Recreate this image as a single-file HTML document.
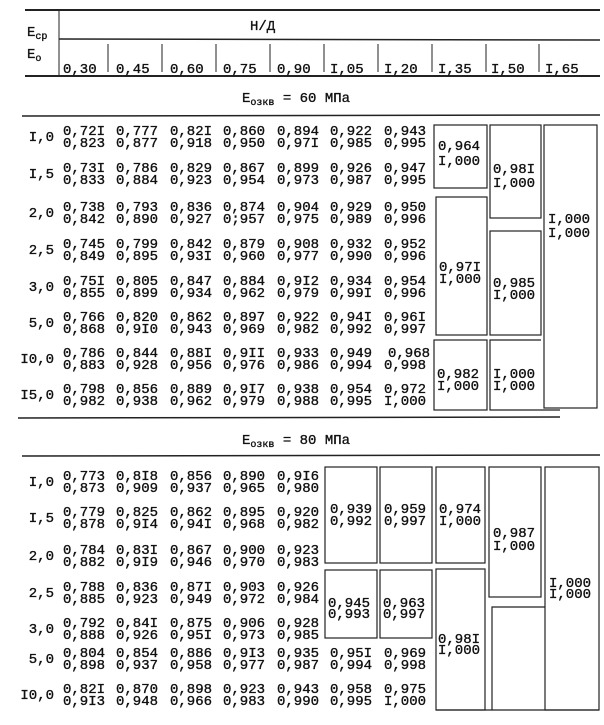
<!DOCTYPE html>
<html><head><meta charset="utf-8"><style>
html,body{margin:0;padding:0;background:#fff;}
svg{display:block;}
text{font-family:"Liberation Mono",monospace;font-size:14px;fill:#111;stroke:#111;stroke-width:0.35;}
.s{font-size:10px;}
</style></head><body>
<svg width="604" height="725" viewBox="0 0 604 725" xmlns="http://www.w3.org/2000/svg">
<g stroke="#222" fill="none">
<line x1="25" y1="10" x2="600" y2="10" stroke-width="2"/>
<line x1="59" y1="10" x2="59" y2="76" stroke-width="1"/>
<line x1="59" y1="39" x2="600" y2="40" stroke-width="1.5"/>
<line x1="25" y1="76" x2="600" y2="76" stroke-width="2"/>
<g stroke-width="1">
<line x1="108" y1="44" x2="108" y2="72"/><line x1="162" y1="44" x2="162" y2="72"/>
<line x1="216" y1="44" x2="216" y2="72"/><line x1="270" y1="44" x2="270" y2="72"/>
<line x1="324" y1="44" x2="324" y2="72"/><line x1="378" y1="44" x2="378" y2="72"/>
<line x1="432" y1="44" x2="432" y2="72"/><line x1="486" y1="44" x2="486" y2="72"/>
<line x1="539" y1="44" x2="539" y2="72"/>
</g>
<line x1="22" y1="116" x2="600" y2="115" stroke-width="1.5"/>
<line x1="18" y1="418" x2="560" y2="417" stroke-width="1.5"/>
<line x1="22" y1="456" x2="600" y2="455" stroke-width="1.5"/>
<g stroke-width="1.2">
<rect x="434" y="125" width="53" height="63"/>
<rect x="490" y="125" width="51" height="93"/>
<rect x="544" y="125" width="53" height="283"/>
<rect x="436" y="197" width="51" height="138"/>
<rect x="490" y="231" width="51" height="104"/>
<rect x="434" y="340" width="53" height="70"/>
<polyline points="541,340 490,340 490,410 560,410"/>
<rect x="325" y="467" width="52" height="96"/>
<rect x="380" y="467" width="52" height="96"/>
<rect x="436" y="467" width="49" height="96"/>
<rect x="489" y="467" width="52" height="130"/>
<rect x="545" y="467" width="54" height="243"/>
<rect x="325" y="570" width="52" height="68"/>
<rect x="380" y="570" width="52" height="68"/>
<rect x="436" y="569" width="49" height="141"/>
<polyline points="545,607 492,607 492,710"/>
<line x1="436" y1="710" x2="599" y2="710"/>
</g>
</g>
<text x="27" y="36">E<tspan class="s" dy="3">ср</tspan></text>
<text x="27" y="58">E<tspan class="s" dy="3">о</tspan></text>
<text x="250" y="30">Н/Д</text>
<g>
<text x="63" y="73">0,30</text><text x="116" y="73">0,45</text><text x="170" y="73">0,60</text>
<text x="223" y="73">0,75</text><text x="277" y="73">0,90</text><text x="330" y="73">I,05</text>
<text x="384" y="73">I,20</text><text x="438" y="73">I,35</text><text x="491" y="73">I,50</text>
<text x="545" y="73">I,65</text>
</g>
<text x="242" y="102">E<tspan class="s" dy="3">озкв</tspan><tspan dy="-3"> = 60 МПа</tspan></text>
<text x="242" y="444">E<tspan class="s" dy="3">озкв</tspan><tspan dy="-3"> = 80 МПа</tspan></text>

<g text-anchor="end">
<text x="54" y="141">I,0</text><text x="54" y="178">I,5</text><text x="54" y="217">2,0</text>
<text x="54" y="254">2,5</text><text x="54" y="291">3,0</text><text x="54" y="327">5,0</text>
<text x="54" y="363">I0,0</text><text x="54" y="399">I5,0</text>
<text x="54" y="486">I,0</text><text x="54" y="522">I,5</text><text x="54" y="560">2,0</text>
<text x="54" y="597">2,5</text><text x="54" y="633">3,0</text><text x="54" y="663">5,0</text>
<text x="54" y="699">I0,0</text>
</g>

<g>
<text y="135"><tspan x="63">0,72I</tspan><tspan x="116">0,777</tspan><tspan x="170">0,82I</tspan><tspan x="223">0,860</tspan><tspan x="277">0,894</tspan><tspan x="330">0,922</tspan><tspan x="384">0,943</tspan></text>
<text y="147"><tspan x="63">0,823</tspan><tspan x="116">0,877</tspan><tspan x="170">0,918</tspan><tspan x="223">0,950</tspan><tspan x="277">0,97I</tspan><tspan x="330">0,985</tspan><tspan x="384">0,995</tspan></text>
<text y="172"><tspan x="63">0,73I</tspan><tspan x="116">0,786</tspan><tspan x="170">0,829</tspan><tspan x="223">0,867</tspan><tspan x="277">0,899</tspan><tspan x="330">0,926</tspan><tspan x="384">0,947</tspan></text>
<text y="184"><tspan x="63">0,833</tspan><tspan x="116">0,884</tspan><tspan x="170">0,923</tspan><tspan x="223">0,954</tspan><tspan x="277">0,973</tspan><tspan x="330">0,987</tspan><tspan x="384">0,995</tspan></text>
<text y="211"><tspan x="63">0,738</tspan><tspan x="116">0,793</tspan><tspan x="170">0,836</tspan><tspan x="223">0,874</tspan><tspan x="277">0,904</tspan><tspan x="330">0,929</tspan><tspan x="384">0,950</tspan></text>
<text y="223"><tspan x="63">0,842</tspan><tspan x="116">0,890</tspan><tspan x="170">0,927</tspan><tspan x="223">0;957</tspan><tspan x="277">0,975</tspan><tspan x="330">0,989</tspan><tspan x="384">0,996</tspan></text>
<text y="248"><tspan x="63">0,745</tspan><tspan x="116">0,799</tspan><tspan x="170">0,842</tspan><tspan x="223">0,879</tspan><tspan x="277">0,908</tspan><tspan x="330">0,932</tspan><tspan x="384">0,952</tspan></text>
<text y="260"><tspan x="63">0,849</tspan><tspan x="116">0,895</tspan><tspan x="170">0,93I</tspan><tspan x="223">0,960</tspan><tspan x="277">0,977</tspan><tspan x="330">0,990</tspan><tspan x="384">0,996</tspan></text>
<text y="285"><tspan x="63">0,75I</tspan><tspan x="116">0,805</tspan><tspan x="170">0,847</tspan><tspan x="223">0,884</tspan><tspan x="277">0,9I2</tspan><tspan x="330">0,934</tspan><tspan x="384">0,954</tspan></text>
<text y="297"><tspan x="63">0,855</tspan><tspan x="116">0,899</tspan><tspan x="170">0,934</tspan><tspan x="223">0,962</tspan><tspan x="277">0,979</tspan><tspan x="330">0,99I</tspan><tspan x="384">0,996</tspan></text>
<text y="321"><tspan x="63">0,766</tspan><tspan x="116">0,820</tspan><tspan x="170">0,862</tspan><tspan x="223">0,897</tspan><tspan x="277">0,922</tspan><tspan x="330">0,94I</tspan><tspan x="384">0,96I</tspan></text>
<text y="333"><tspan x="63">0,868</tspan><tspan x="116">0,9I0</tspan><tspan x="170">0,943</tspan><tspan x="223">0,969</tspan><tspan x="277">0,982</tspan><tspan x="330">0,992</tspan><tspan x="384">0,997</tspan></text>
<text y="357"><tspan x="63">0,786</tspan><tspan x="116">0,844</tspan><tspan x="170">0,88I</tspan><tspan x="223">0,9II</tspan><tspan x="277">0,933</tspan><tspan x="330">0,949</tspan><tspan x="388">0,968</tspan></text>
<text y="369"><tspan x="63">0,883</tspan><tspan x="116">0,928</tspan><tspan x="170">0,956</tspan><tspan x="223">0,976</tspan><tspan x="277">0,986</tspan><tspan x="330">0,994</tspan><tspan x="384">0,998</tspan></text>
<text y="393"><tspan x="63">0,798</tspan><tspan x="116">0,856</tspan><tspan x="170">0,889</tspan><tspan x="223">0,9I7</tspan><tspan x="277">0,938</tspan><tspan x="330">0,954</tspan><tspan x="384">0,972</tspan></text>
<text y="405"><tspan x="63">0,982</tspan><tspan x="116">0,938</tspan><tspan x="170">0,962</tspan><tspan x="223">0,979</tspan><tspan x="277">0,988</tspan><tspan x="330">0,995</tspan><tspan x="384">I,000</tspan></text>
<text x="438" y="150">0,964</text><text x="438" y="165">I,000</text>
<text x="493" y="173">0,98I</text><text x="493" y="187">I,000</text>
<text x="548" y="223">I,000</text><text x="548" y="237">I,000</text>
<text x="439" y="271">0,97I</text><text x="439" y="283">I,000</text>
<text x="493" y="287">0,985</text><text x="493" y="299">I,000</text>
<text x="437" y="378">0,982</text><text x="437" y="390">I,000</text>
<text x="493" y="378">I,000</text><text x="493" y="390">I,000</text>
<text y="480"><tspan x="63">0,773</tspan><tspan x="116">0,8I8</tspan><tspan x="170">0,856</tspan><tspan x="223">0,890</tspan><tspan x="277">0,9I6</tspan></text>
<text y="492"><tspan x="63">0,873</tspan><tspan x="116">0,909</tspan><tspan x="170">0,937</tspan><tspan x="223">0,965</tspan><tspan x="277">0,980</tspan></text>
<text y="516"><tspan x="63">0,779</tspan><tspan x="116">0,825</tspan><tspan x="170">0,862</tspan><tspan x="223">0,895</tspan><tspan x="277">0,920</tspan></text>
<text y="528"><tspan x="63">0,878</tspan><tspan x="116">0,9I4</tspan><tspan x="170">0,94I</tspan><tspan x="223">0,968</tspan><tspan x="277">0,982</tspan></text>
<text y="554"><tspan x="63">0,784</tspan><tspan x="116">0,83I</tspan><tspan x="170">0,867</tspan><tspan x="223">0,900</tspan><tspan x="277">0,923</tspan></text>
<text y="566"><tspan x="63">0,882</tspan><tspan x="116">0,9I9</tspan><tspan x="170">0,946</tspan><tspan x="223">0,970</tspan><tspan x="277">0,983</tspan></text>
<text y="591"><tspan x="63">0,788</tspan><tspan x="116">0,836</tspan><tspan x="170">0,87I</tspan><tspan x="223">0,903</tspan><tspan x="277">0,926</tspan></text>
<text y="603"><tspan x="63">0,885</tspan><tspan x="116">0,923</tspan><tspan x="170">0,949</tspan><tspan x="223">0,972</tspan><tspan x="277">0,984</tspan></text>
<text y="627"><tspan x="63">0,792</tspan><tspan x="116">0,84I</tspan><tspan x="170">0,875</tspan><tspan x="223">0,906</tspan><tspan x="277">0,928</tspan></text>
<text y="639"><tspan x="63">0,888</tspan><tspan x="116">0,926</tspan><tspan x="170">0,95I</tspan><tspan x="223">0,973</tspan><tspan x="277">0,985</tspan></text>
<text y="657"><tspan x="63">0,804</tspan><tspan x="116">0,854</tspan><tspan x="170">0,886</tspan><tspan x="223">0,9I3</tspan><tspan x="277">0,935</tspan><tspan x="330">0,95I</tspan><tspan x="384">0,969</tspan></text>
<text y="669"><tspan x="63">0,898</tspan><tspan x="116">0,937</tspan><tspan x="170">0,958</tspan><tspan x="223">0,977</tspan><tspan x="277">0,987</tspan><tspan x="330">0,994</tspan><tspan x="384">0,998</tspan></text>
<text y="693"><tspan x="63">0,82I</tspan><tspan x="116">0,870</tspan><tspan x="170">0,898</tspan><tspan x="223">0,923</tspan><tspan x="277">0,943</tspan><tspan x="330">0,958</tspan><tspan x="384">0,975</tspan></text>
<text y="705"><tspan x="63">0,9I3</tspan><tspan x="116">0,948</tspan><tspan x="170">0,966</tspan><tspan x="223">0,983</tspan><tspan x="277">0,990</tspan><tspan x="330">0,995</tspan><tspan x="384">I,000</tspan></text>
<text x="330" y="513">0,939</text><text x="330" y="525">0,992</text>
<text x="384" y="513">0,959</text><text x="384" y="525">0,997</text>
<text x="439" y="513">0,974</text><text x="439" y="525">I,000</text>
<text x="493" y="537">0,987</text><text x="493" y="550">I,000</text>
<text x="549" y="587">I,000</text><text x="549" y="598">I,000</text>
<text x="328" y="607">0,945</text><text x="328" y="618">0,993</text>
<text x="383" y="607">0,963</text><text x="383" y="618">0,997</text>
<text x="438" y="643">0,98I</text><text x="438" y="654">I,000</text>
</g>
</svg>
</body></html>
